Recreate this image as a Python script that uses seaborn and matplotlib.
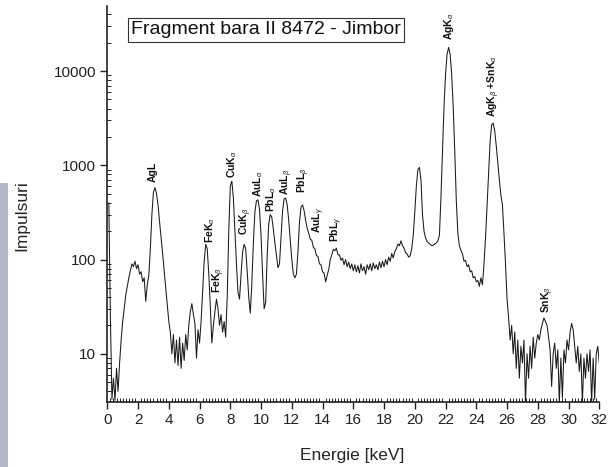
import numpy as np
import pandas as pd
import matplotlib
matplotlib.use("Agg")
import matplotlib.pyplot as plt
from matplotlib.patches import Rectangle
from matplotlib.ticker import MultipleLocator, LogLocator, NullFormatter, FixedLocator
import seaborn as sns

# ---- data ----
energy_start = 0.1   # keV, first channel
energy_step = 0.1    # keV per channel
counts = [
    # 0.1 - 1.0
    400, 25, 3.3, 5.5, 3.2, 7, 4, 8, 14, 22,
    # 1.1 - 2.0
    30, 42, 52, 64, 76, 90, 84, 96, 80, 88,
    # 2.1 - 3.0
    70, 74, 58, 64, 36, 54, 68, 130, 300, 520,
    # 3.1 - 4.0
    580, 500, 380, 250, 170, 115, 75, 50, 33, 22,
    # 4.1 - 5.0
    17, 10, 16, 8, 14, 7.5, 15, 7, 13, 8.5,
    # 5.1 - 6.0
    16, 11, 20, 28, 34, 26, 21, 9, 18, 13,
    # 6.1 - 7.0
    22, 45, 95, 145, 130, 70, 32, 13, 20, 28,
    # 7.1 - 8.0
    38, 30, 20, 26, 17, 22, 15, 40, 200, 600,
    # 8.1 - 9.0
    680, 450, 200, 90, 45, 38, 70, 120, 145, 130,
    # 9.1 - 10.0
    75, 40, 27, 55, 150, 320, 420, 430, 340, 180,
    # 10.1 - 11.0
    70, 30, 35, 110, 240, 300, 280, 210, 150, 110,
    # 11.1 - 12.0
    82, 90, 170, 330, 440, 450, 380, 260, 160, 100,
    # 12.1 - 13.0
    70, 64, 70, 120, 250, 360, 380, 330, 260, 215,
    # 13.1 - 14.0
    190, 165, 160, 135, 130, 110, 108, 90, 88, 74,
    # 14.1 - 15.0
    72, 58, 68, 78, 100, 112, 128, 124, 132, 112,
    # 15.1 - 16.0
    112, 98, 104, 88, 100, 84, 94, 80, 90, 76,
    # 16.1 - 17.0
    88, 74, 86, 72, 90, 76, 84, 70, 88, 78,
    # 17.1 - 18.0
    90, 76, 92, 80, 88, 78, 94, 82, 96, 84,
    # 18.1 - 19.0
    100, 88, 106, 96, 116, 104, 122, 130, 146, 140,
    # 19.1 - 20.0
    158, 140, 132, 118, 115, 106, 110, 130, 180, 320,
    # 20.1 - 21.0
    600, 900, 950, 700, 300, 200, 170, 155, 150, 145,
    # 21.1 - 22.0
    140, 142, 146, 150, 158, 180, 450, 1400, 4200, 9300,
    # 22.1 - 23.0
    15100, 17800, 15000, 9200, 4100, 1400, 420, 190, 140, 125,
    # 23.1 - 24.0
    115, 96, 98, 84, 88, 74, 76, 64, 66, 58,
    # 24.1 - 25.0
    60, 52, 64, 54, 90, 170, 380, 900, 1800, 2700,
    # 25.1 - 26.0
    2800, 2300, 1600, 1050, 700, 480, 380, 190, 90, 38,
    # 26.1 - 27.0
    24, 14, 20, 10, 17, 7, 14, 5.5, 12, 8,
    # 27.1 - 28.0
    14, 3.0, 10, 5.5, 12, 7, 15, 9, 13, 16,
    # 28.1 - 29.0
    14, 18, 21, 24, 22, 20, 15, 11, 4.5, 10,
    # 29.1 - 30.0
    13, 7, 11, 3.0, 9, 3.4, 11, 8, 14, 11,
    # 30.1 - 31.0
    17, 21, 18, 12, 8, 12, 6.5, 10, 3.0, 9,
    # 31.1 - 32.0
    5.5, 10, 6.5, 11, 3.0, 9, 3.3, 10, 12, 8,
]

peak_labels = [r"AgL", r"FeK$_\alpha$", r"FeK$_\beta$", r"CuK$_\alpha$", r"CuK$_\beta$",
               r"AuL$_\alpha$", r"PbL$_\alpha$", r"AuL$_\beta$", r"PbL$_\beta$",
               r"AuL$_\gamma$", r"PbL$_\gamma$", r"AgK$_\alpha$",
               r"AgK$_\beta$ +SnK$_\alpha$", r"SnK$_\beta$"]
peak_energy = [2.95, 6.68, 7.22, 8.13, 9.0, 9.83, 10.65, 11.67, 12.75, 13.73, 14.92, 22.23, 25.11, 28.68]
peak_label_base = [667, 150, 44, 735, 183, 462, 321, 485, 509, 192, 154, 21400, 3260, 27]

x_ticks = list(range(0, 33, 2))
y_ticks = [10, 100, 1000, 10000]
title_text = "Fragment bara II 8472 - Jimbor"
x_label = "Energie [keV]"
y_label = "Impulsuri"

# ---- build frame ----
energy = np.round(energy_start + energy_step * np.arange(len(counts)), 2)
df = pd.DataFrame({"Energie": energy, "Impulsuri": counts})

sns.set_style("ticks")
plt.rcParams["font.family"] = ["Liberation Sans", "DejaVu Sans"]
plt.rcParams["mathtext.fontset"] = "custom"
plt.rcParams["mathtext.rm"] = "Liberation Sans"
plt.rcParams["mathtext.it"] = "Liberation Sans:italic"
plt.rcParams["mathtext.bf"] = "Liberation Sans:bold"

fig = plt.figure(figsize=(6.16, 4.67), dpi=100)
ax = fig.add_axes([107.3 / 616, (467 - 401.7) / 467, (599.3 - 107.3) / 616, (401.7 - 6) / 467])

sns.lineplot(data=df, x="Energie", y="Impulsuri", ax=ax, color="#1a1a1a",
             linewidth=0.75, estimator=None, sort=False)

ax.set_yscale("log")
ax.set_xlim(0, 32)
ax.set_ylim(3.1, 49000)

for s in ["top", "right"]:
    ax.spines[s].set_visible(False)
for s in ["left", "bottom"]:
    ax.spines[s].set_linewidth(1.2)
    ax.spines[s].set_color("#222222")

ax.xaxis.set_major_locator(FixedLocator(x_ticks))
ax.xaxis.set_minor_locator(MultipleLocator(0.2))
ax.yaxis.set_major_locator(FixedLocator(y_ticks))
ax.yaxis.set_minor_locator(LogLocator(base=10, subs=np.arange(2, 10)))
ax.yaxis.set_minor_formatter(NullFormatter())
ax.set_yticklabels([str(v) for v in y_ticks])
ax.set_xticklabels([str(v) for v in x_ticks])

ax.tick_params(axis="both", which="major", labelsize=11, length=5, width=1.0,
               direction="out", colors="#222222", pad=3)
ax.tick_params(axis="both", which="minor", length=3, width=0.7, direction="in", colors="#222222")

ax.set_xlabel(x_label, fontsize=12.5)
ax.xaxis.set_label_coords(0.497, -0.118)
ax.set_ylabel(y_label, fontsize=12.5)
ax.yaxis.set_label_coords(-0.158, 0.47)

for lbl, ex, ey in zip(peak_labels, peak_energy, peak_label_base):
    ax.text(ex, ey, lbl, rotation=90, ha="center", va="bottom",
            fontsize=7.5, fontweight="bold", color="#111111")

ax.text(0.3226, 0.9406, title_text, transform=ax.transAxes, ha="center", va="center",
        fontsize=14, color="#111111",
        bbox=dict(boxstyle="square,pad=0.18", fc="white", ec="#333333", lw=0.8))

fig.patches.append(Rectangle((0, 0), 8 / 616, (467 - 183) / 467, transform=fig.transFigure,
                             facecolor="#b3b7c6", edgecolor="none", zorder=0))

fig.savefig("out.png", dpi=100)
